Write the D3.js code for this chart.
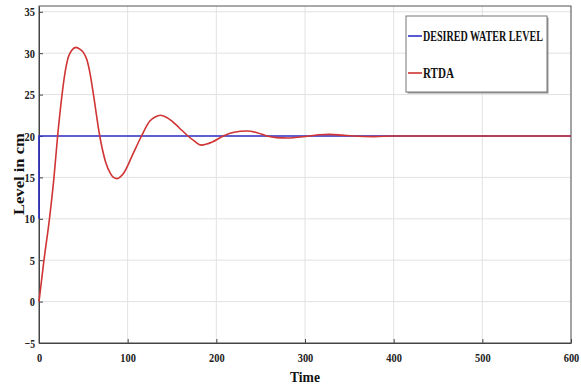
<!DOCTYPE html>
<html>
<head>
<meta charset="utf-8">
<script src="https://cdn.jsdelivr.net/npm/d3@7"></script>
<style>
  body { margin: 0; background: #fff; }
  text { font-family: "Liberation Serif", "Times New Roman", serif; font-weight: bold; }
</style>
</head>
<body>
<svg width="581" height="387"></svg>
<script>
// data
var xTicks = [0, 100, 200, 300, 400, 500, 600];
var yTicks = [-5, 0, 5, 10, 15, 20, 25, 30, 35];

var desiredT = [0, 0, 600];
var desiredV = [10, 20, 20];

var rtdaT = [0, 5.6, 11.8, 16.9, 21, 26, 29, 33, 37, 41.7, 46, 50, 54, 58, 61, 68.5, 75, 81, 84, 88, 92, 96, 105, 115.6, 125, 131, 137,
  143, 150, 158, 168, 175, 183, 196, 208, 220, 234, 246, 257, 268, 280, 292, 305, 316, 328, 342, 355, 378, 400, 600];
var rtdaV = [0, 5, 10, 15, 20, 25, 27.4, 29.5, 30.35, 30.7, 30.5, 30.1, 29.2, 27.3, 25.3, 20, 16.9, 15.4, 15, 14.85, 15.1, 15.6, 17.6, 20, 21.8, 22.3, 22.5,
  22.3, 21.8, 21, 20, 19.4, 18.9, 19.3, 20, 20.45, 20.6, 20.4, 20, 19.8, 19.75, 19.85, 20, 20.15, 20.2, 20.1, 20, 19.93, 20, 20];

var legendNames = ["DESIRED WATER LEVEL", "RTDA"];
var colors = ["#2f2fc8", "#d03434"];

var margin = { top: 6, right: 10, bottom: 44, left: 39 };
var width = 581 - margin.left - margin.right;
var height = 387 - margin.top - margin.bottom;

var svg = d3.select("svg");
var g = svg.append("g")
  .attr("transform", `translate(${margin.left}, ${margin.top})`);

var x = d3.scaleLinear().domain([0, 600]).range([0, width]);
var y = d3.scaleLinear().domain([-5, 35.7]).range([height, 0]);

// grid
g.append("g").selectAll("line")
  .data(xTicks)
  .enter().append("line")
  .attr("x1", d => x(d)).attr("x2", d => x(d))
  .attr("y1", 0).attr("y2", height)
  .attr("stroke", "#e2e2e2");

g.append("g").selectAll("line")
  .data(yTicks)
  .enter().append("line")
  .attr("x1", 0).attr("x2", width)
  .attr("y1", d => y(d)).attr("y2", d => y(d))
  .attr("stroke", "#e2e2e2");

// frame
g.append("rect")
  .attr("width", width).attr("height", height)
  .attr("fill", "none").attr("stroke", "#555").attr("stroke-width", 1);

var xAxis = g.append("g")
  .attr("transform", `translate(0, ${height})`)
  .call(d3.axisBottom(x).tickValues(xTicks).tickSizeInner(-4).tickSizeOuter(0).tickPadding(10));
var yAxis = g.append("g")
  .call(d3.axisLeft(y).tickValues(yTicks).tickSizeInner(-4).tickSizeOuter(0).tickPadding(4));

// the original glyphs are narrow, squeeze the tick labels a bit
[xAxis, yAxis].forEach(function(a) {
  a.select(".domain").attr("stroke", "#444");
  a.selectAll(".tick line").attr("stroke", "#444");
  a.selectAll("text")
    .attr("font-family", "Liberation Serif")
    .attr("font-weight", "bold")
    .attr("font-size", 13)
    .attr("fill", "#222")
    .attr("textLength", function(d) { return String(d).length * 5.2; })
    .attr("lengthAdjust", "spacingAndGlyphs");
});

var line = d3.line()
  .x(d => x(d[0]))
  .y(d => y(d[1]));

g.append("path")
  .datum(desiredT.map((t, i) => [t, desiredV[i]]))
  .attr("fill", "none")
  .attr("stroke", colors[0])
  .attr("stroke-width", 1.6)
  .attr("d", line);

g.append("path")
  .datum(rtdaT.map((t, i) => [t, rtdaV[i]]))
  .attr("fill", "none")
  .attr("stroke", colors[1])
  .attr("stroke-width", 1.6)
  .attr("d", line.curve(d3.curveMonotoneX));

// legend
var legend = svg.append("g").attr("transform", "translate(406, 16)");
legend.append("rect")
  .attr("x", 1.5).attr("y", 1.5)
  .attr("width", 141).attr("height", 76)
  .attr("fill", "#999");
legend.append("rect")
  .attr("width", 141).attr("height", 76)
  .attr("fill", "#fff").attr("stroke", "#777");

legendNames.forEach(function(name, i) {
  var ly = 20 + i * 37;
  legend.append("line")
    .attr("x1", 2).attr("x2", 16)
    .attr("y1", ly).attr("y2", ly)
    .attr("stroke", colors[i]).attr("stroke-width", 1.6);
  legend.append("text")
    .attr("x", 17).attr("y", ly + 5)
    .attr("font-size", 14)
    .attr("fill", "#111")
    .attr("textLength", i === 0 ? 120 : 31)
    .attr("lengthAdjust", "spacingAndGlyphs")
    .text(name);
});

// axis labels
svg.append("text")
  .attr("x", margin.left + x(300))
  .attr("y", 382)
  .attr("text-anchor", "middle")
  .attr("font-size", 15)
  .attr("fill", "#111")
  .attr("textLength", 30)
  .attr("lengthAdjust", "spacingAndGlyphs")
  .text("Time");

svg.append("text")
  .attr("transform", `translate(24, ${margin.top + y(15.4)}) rotate(-90)`)
  .attr("text-anchor", "middle")
  .attr("font-size", 15)
  .attr("fill", "#111")
  .attr("textLength", 82)
  .attr("lengthAdjust", "spacingAndGlyphs")
  .text("Level in cm");
</script>
</body>
</html>
